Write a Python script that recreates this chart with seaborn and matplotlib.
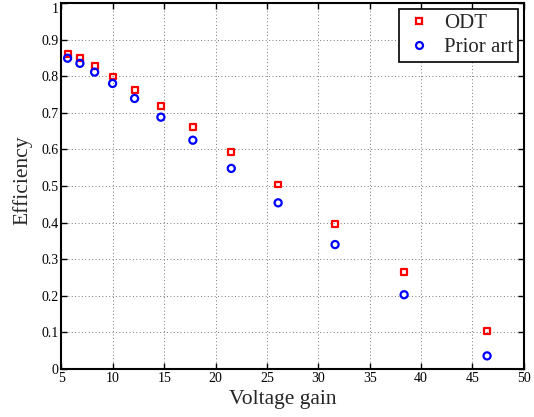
import seaborn as sns
import matplotlib.pyplot as plt
import matplotlib.ticker as mticker
from matplotlib.lines import Line2D
import pandas as pd

# values
voltage_gain = [5.6, 6.8, 8.23, 9.98, 12.12, 14.68, 17.79, 21.53, 26.09, 31.63, 38.35, 46.42]
eff_odt = [0.860, 0.849, 0.828, 0.799, 0.761, 0.719, 0.662, 0.592, 0.504, 0.396, 0.264, 0.104]
eff_prior = [0.849, 0.835, 0.811, 0.780, 0.739, 0.688, 0.625, 0.548, 0.454, 0.340, 0.203, 0.036]
series_names = ["ODT", "Prior art"]

df_odt = pd.DataFrame({"gain": voltage_gain, "eff": eff_odt})
df_prior = pd.DataFrame({"gain": voltage_gain, "eff": eff_prior})

sns.set_style("ticks")
plt.rcParams["font.family"] = ["Liberation Serif", "DejaVu Serif"]

fig = plt.figure(figsize=(5.34, 4.17), dpi=100)
ax = fig.add_axes([0.115, 0.115, 0.866, 0.878])

sns.scatterplot(data=df_odt, x="gain", y="eff", marker="s", s=18,
                facecolor="none", edgecolor="#ff0000", linewidth=1.6, ax=ax, zorder=3)
sns.scatterplot(data=df_prior, x="gain", y="eff", marker="o", s=26,
                facecolor="none", edgecolor="#0000ff", linewidth=1.6, ax=ax, zorder=3)

ax.set_xlim(5, 50)
ax.set_ylim(0, 1)
ax.set_xticks(range(5, 51, 5))
ax.set_yticks([i / 10 for i in range(11)])
ax.yaxis.set_major_formatter(mticker.FormatStrFormatter("%g"))
ax.tick_params(direction="in", length=4, width=1.0, labelsize=10, top=True, right=True,
               colors="black", pad=2)
for sp in ax.spines.values():
    sp.set_visible(True)
    sp.set_linewidth(1.5)
    sp.set_color("black")
ax.grid(True, linestyle=(0, (1, 2.5)), color="#777777", linewidth=0.7)

ax.set_xlabel("Voltage gain", fontsize=15.5)
ax.set_ylabel("Efficiency", fontsize=15.5)
ax.xaxis.set_label_coords(0.478, -0.058)
ax.yaxis.set_label_coords(-0.062, 0.516)

# keep the top "1" label inside the figure, like the reference
fig.canvas.draw()
ax.get_yticklabels()[-1].set_va("top")

handles = [
    Line2D([], [], marker="s", linestyle="none", markerfacecolor="none",
           markeredgecolor="#ff0000", markeredgewidth=1.6, markersize=4.2),
    Line2D([], [], marker="o", linestyle="none", markerfacecolor="none",
           markeredgecolor="#0000ff", markeredgewidth=1.6, markersize=5),
]
leg = ax.legend(handles, series_names, loc="upper right", fontsize=15,
                frameon=True, fancybox=False, edgecolor="black",
                borderaxespad=0.27, handlelength=1.4, handletextpad=0.5,
                borderpad=0.25, labelspacing=0.2)
leg.get_frame().set_linewidth(1.2)
leg.get_frame().set_alpha(1)

fig.savefig("out.png", dpi=100)
